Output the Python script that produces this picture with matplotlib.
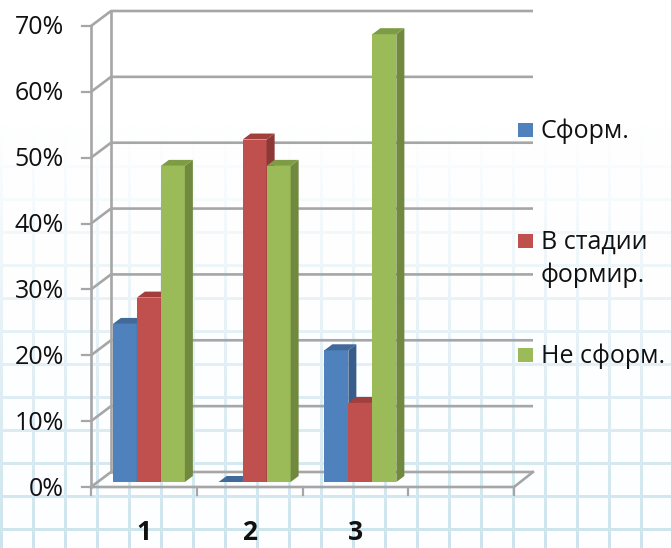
import numpy as np
import matplotlib
matplotlib.use("Agg")
import matplotlib.pyplot as plt
from matplotlib.patches import Polygon, Rectangle

plt.rcParams['font.family'] = ['Open Sans', 'DejaVu Sans']

# data (percent)
categories = ["1", "2", "3", ""]
series_names = ["Сформ.", "В стадии\nформир.", "Не сформ."]
sformed = [24, 0, 20, None]
in_progress = [28, 52, 12, None]
not_formed = [48, 48, 68, None]
yticks = [0, 10, 20, 30, 40, 50, 60, 70]

front_colors = ["#4F81BD", "#C0504D", "#9BBB59"]
side_colors = ["#385D8A", "#8C3836", "#71893F"]
top_colors = ["#41699A", "#A23F3D", "#7E9C46"]
grid_color = "#A6A6A6"

W, H = 671, 548
fig = plt.figure(figsize=(W / 100, H / 100), dpi=100)

# graph-paper background, fading toward the top
bg = fig.add_axes([0, 0, 1, 1], zorder=-10)
img = np.ones((H, W, 4))
yy, xx = np.mgrid[0:H, 0:W]
lines = ((xx % 32) < 3) | ((yy % 33) < 3)
ramp = np.clip((yy - 120) / 420.0, 0, 1) * 0.65
img[..., 0] = np.where(lines, 0.70, 0.97)
img[..., 1] = np.where(lines, 0.84, 0.99)
img[..., 2] = np.where(lines, 0.90, 1.0)
img[..., 3] = np.where(lines, ramp, ramp * 0.4)
bg.imshow(np.ones((H, W, 3)), extent=(0, W, H, 0))
bg.imshow(img, extent=(0, W, H, 0), interpolation="bilinear")
bg.set_xlim(0, W)
bg.set_ylim(H, 0)
bg.axis("off")

# front plane of the plot: x 91..514 px, y 0% at 487 px, 70% at 26 px
x0, x1, y0, y1 = 91, 514, 487, 26
ax = fig.add_axes([x0 / W, (H - y0) / H, (x1 - x0) / W, (y0 - y1) / H])
ax.set_xlim(0.5, 4.5)
ax.set_ylim(0, 70)
ax.axis("off")

sx = 4.0 / (x1 - x0)      # data units per pixel
sy = 70.0 / (y0 - y1)

# back wall offset
wx, wy = 20 * sx, 15 * sy
for t in yticks:
    ax.plot([0.5, 0.5 + wx, 4.5 + wx * 0.95], [t, t + wy, t + wy],
            color=grid_color, lw=1.9, clip_on=False, zorder=1,
            solid_capstyle="butt")
    ax.plot([0.5 - 9 * sx, 0.5], [t, t], color=grid_color, lw=1.6,
            clip_on=False, zorder=1)
    ax.text(0.5 - 27 * sx, t - 2 * sy, f"{t}%", ha="right", va="center",
            fontsize=18, color="#111111")
# walls / floor edges
ax.plot([0.5, 0.5], [0, 70], color=grid_color, lw=1.9, clip_on=False, zorder=1)
ax.plot([0.5 + wx, 0.5 + wx], [wy, 70 + wy], color=grid_color, lw=1.9,
        clip_on=False, zorder=1)
ax.plot([0.5, 4.5, 4.5 + wx * 0.95], [0, 0, wy], color=grid_color, lw=1.9,
        clip_on=False, zorder=1)
for b in np.arange(0.5, 4.6, 1.0):
    ax.plot([b, b], [0, -8 * sy], color=grid_color, lw=1.6, clip_on=False,
            zorder=1)

# x labels
for i, c in enumerate(categories):
    ax.text(i + 1, -46 * sy, c, ha="center", va="center", fontsize=19,
            fontweight="bold", color="#111111")

# bars with depth faces
bw = 24 * sx
bx, by = 5 * sx, 5 * sy
dx, dy = 8 * sx, 6 * sy
series = [sformed, in_progress, not_formed]
for i in range(len(categories)):
    for k, vals in enumerate(series):
        h = vals[i]
        if h is None:
            continue
        xl = (i + 1) - 1.5 * bw + k * bw + bx
        xr = xl + bw
        ax.add_patch(Rectangle((xl, by), bw, h, facecolor=front_colors[k],
                               edgecolor="none", zorder=3, clip_on=False))
        ax.add_patch(Polygon([(xr, by), (xr, by + h), (xr + dx, by + h + dy),
                              (xr + dx, by + dy)], closed=True,
                             facecolor=side_colors[k], edgecolor="none",
                             zorder=3, clip_on=False))
        ax.add_patch(Polygon([(xl, by + h), (xr, by + h),
                              (xr + dx, by + h + dy), (xl + dx, by + h + dy)],
                             closed=True, facecolor=top_colors[k],
                             edgecolor="none", zorder=3, clip_on=False))

# legend (manual, square aligned with the first text line)
legend_rows = [130, 241, 355]
for k, name in enumerate(series_names):
    yc = legend_rows[k]
    fig.patches.append(Rectangle((518 / W, (H - yc - 7) / H), 15 / W, 14 / H,
                                 transform=fig.transFigure,
                                 facecolor=front_colors[k], edgecolor="none"))
    for j, part in enumerate(name.split("\n")):
        base = yc + 8 + j * 33
        fig.text(541 / W, (H - base) / H, part, ha="left", va="baseline",
                 fontsize=18, color="#111111")

fig.savefig("out.png", dpi=100)
